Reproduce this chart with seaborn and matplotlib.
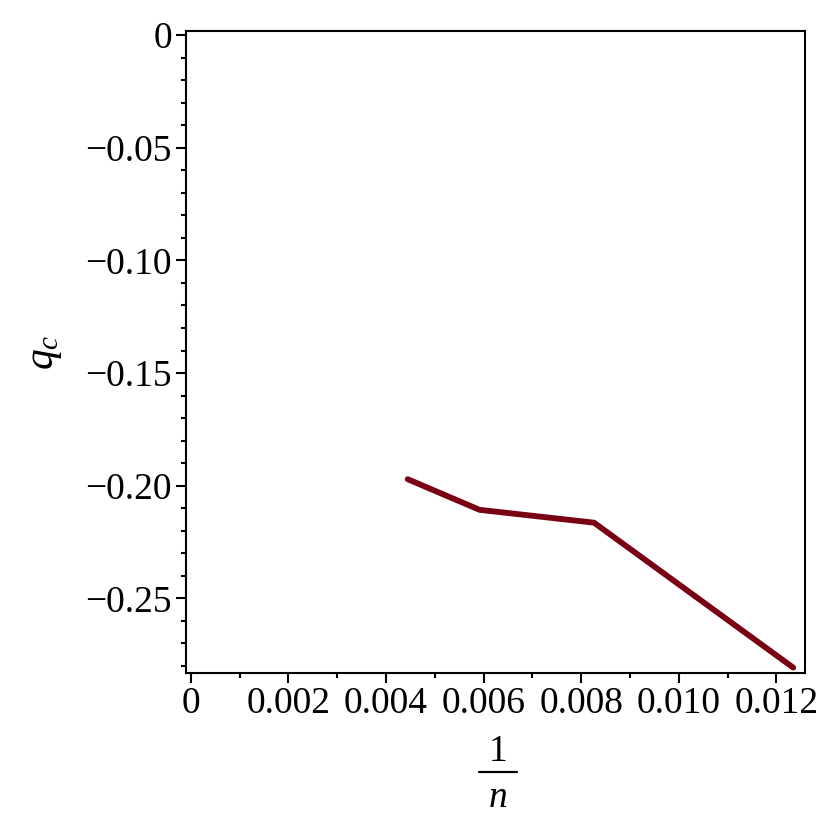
import matplotlib
matplotlib.use("Agg")
import matplotlib.pyplot as plt
import matplotlib.ticker as mticker
from matplotlib.lines import Line2D
import seaborn as sns
import pandas as pd

# data (1/n, q_c)
inv_n = [0.004444, 0.005917, 0.008264, 0.012346]
q_c = [-0.1971, -0.2107, -0.2164, -0.2807]

x_ticks = [0, 0.002, 0.004, 0.006, 0.008, 0.010, 0.012]
x_tick_labels = ["0", "0.002", "0.004", "0.006", "0.008", "0.010", "0.012"]
y_ticks = [0, -0.05, -0.10, -0.15, -0.20, -0.25]
y_tick_labels = ["0", "\u22120.05", "\u22120.10", "\u22120.15", "\u22120.20", "\u22120.25"]

sns.set_theme(style="white")
plt.rcParams['font.family'] = ['Liberation Serif', 'DejaVu Serif']
plt.rcParams['mathtext.fontset'] = 'custom'
plt.rcParams['mathtext.rm'] = 'Liberation Serif'
plt.rcParams['mathtext.it'] = 'Liberation Serif:italic'
plt.rcParams['text.color'] = 'black'

df = pd.DataFrame({"x": inv_n, "y": q_c})

fig = plt.figure(figsize=(8.3, 8.3), dpi=100)
ax = fig.add_axes([186/830, 1-673/830, (805-186)/830, (673-31)/830])
sns.lineplot(data=df, x="x", y="y", sort=False, ax=ax, color="#7a0014", linewidth=4.2)

ax.set_xlim(-0.0001, 0.012588)
ax.set_ylim(-0.2831, 0.00177)
ax.set_xticks(x_ticks)
ax.set_xticklabels(x_tick_labels)
ax.set_yticks(y_ticks)
ax.set_yticklabels(y_tick_labels)
ax.xaxis.set_minor_locator(mticker.MultipleLocator(0.001))
ax.yaxis.set_minor_locator(mticker.MultipleLocator(0.01))
ax.tick_params(axis='both', which='major', direction='out', length=7, width=1.5,
               labelsize=27, pad=3, color='black', labelcolor='black',
               bottom=True, left=True, top=False, right=False)
ax.tick_params(axis='both', which='minor', direction='out', length=3.6, width=1.5,
               color='black', bottom=True, left=True, top=False, right=False)
for s in ax.spines.values():
    s.set_color('black')
    s.set_linewidth(1.5)
ax.set_xlabel("")
ax.set_ylabel("")

fig.text(45/830, 1-352/830, r"$q_c$", rotation=90, ha='center', va='center',
         fontsize=30, color='black')
# x label: fraction 1/n
fig.text(498/830, 1-752/830, "1", ha='center', va='center', fontsize=27, color='black')
fig.add_artist(Line2D([479/830, 517/830], [1-772/830, 1-772/830],
                      transform=fig.transFigure, color='black', linewidth=1.6))
fig.text(498/830, 1-798/830, "n", ha='center', va='center', fontsize=27,
         style='italic', color='black')

fig.savefig("out.png", dpi=100, facecolor='white')
